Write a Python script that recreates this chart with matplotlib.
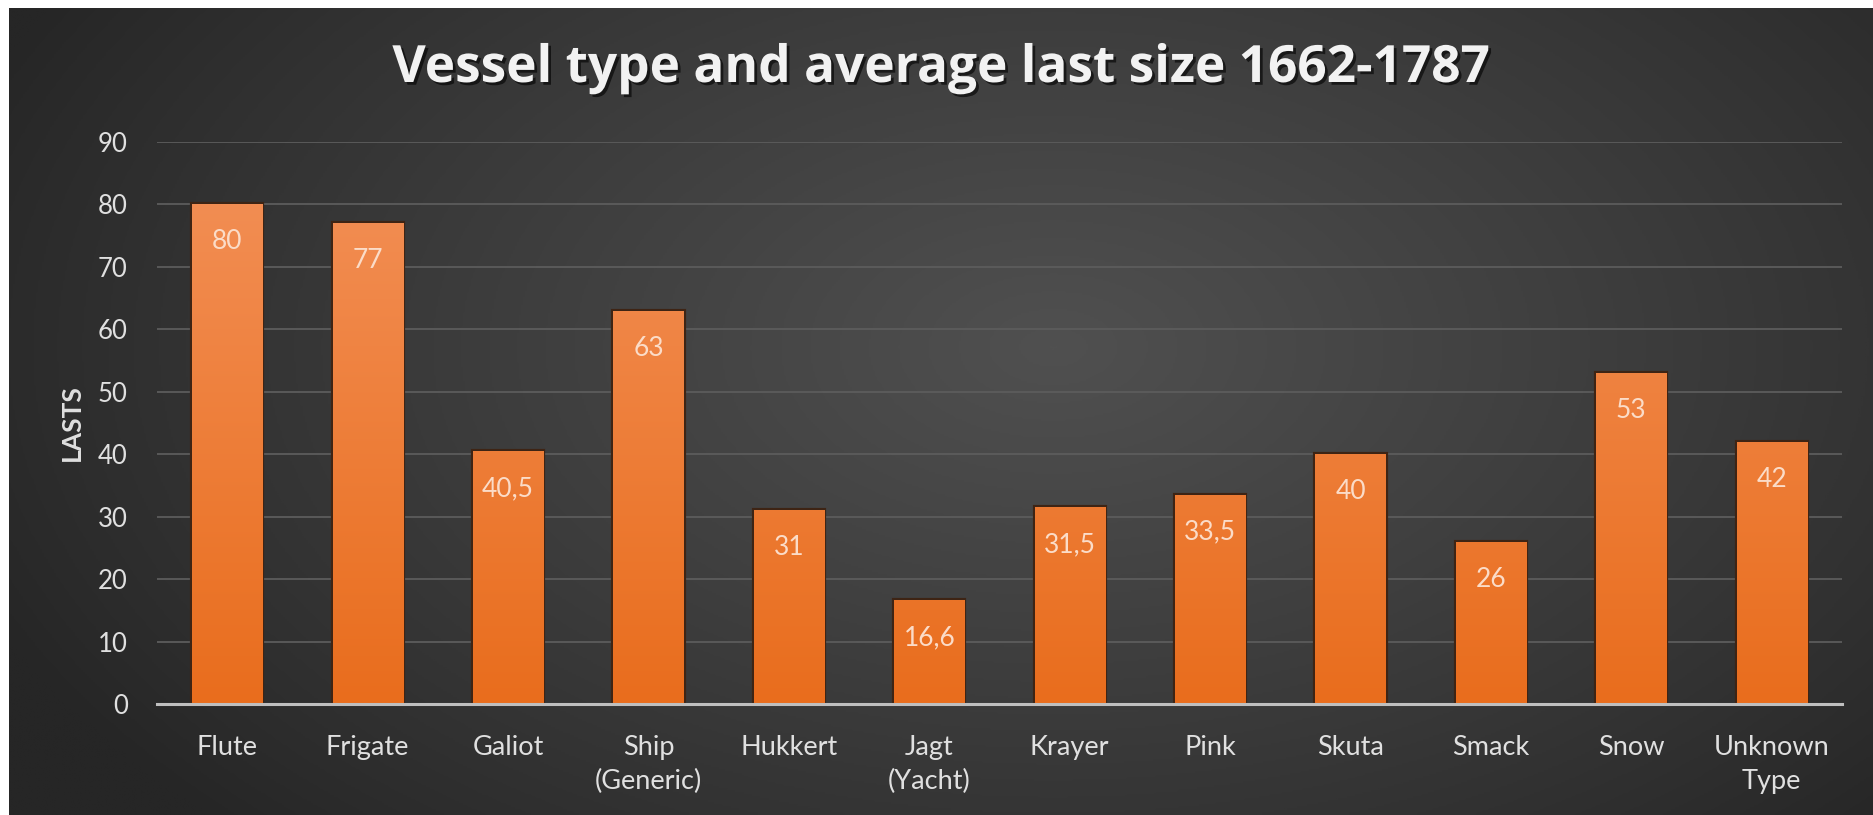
import numpy as np
import matplotlib
matplotlib.use("Agg")
import matplotlib.pyplot as plt
import matplotlib.patheffects as pe
from matplotlib.colors import LinearSegmentedColormap

# --- data -------------------------------------------------------------
categories = ["Flute", "Frigate", "Galiot", "Ship\n(Generic)", "Hukkert",
              "Jagt\n(Yacht)", "Krayer", "Pink", "Skuta", "Smack", "Snow",
              "Unknown\nType"]
avg_lasts = [80, 77, 40.5, 63, 31, 16.6, 31.5, 33.5, 40, 26, 53, 42]
value_labels = ["80", "77", "40,5", "63", "31", "16,6", "31,5", "33,5",
                "40", "26", "53", "42"]
y_ticks = [0, 10, 20, 30, 40, 50, 60, 70, 80, 90]

plt.rcParams["font.family"] = ["Lato", "DejaVu Sans"]

W, H = 1874, 815
fig = plt.figure(figsize=(W / 100, H / 100), dpi=100, facecolor="white")

# --- dark radial background panel ------------------------------------
bg = fig.add_axes([9 / W, 0, 1 - 9 / W, 1 - 8 / H], zorder=0)
bg.set_axis_off()
yy, xx = np.mgrid[0:1:400j, 0:1:900j]
r = np.sqrt(((xx - 0.56) / 0.62) ** 2 + ((yy - 0.42) / 0.85) ** 2)
shade = np.clip(1 - r, 0, 1) ** 0.9
bg_cmap = LinearSegmentedColormap.from_list("bg", ["#262626", "#505050"])
bg.imshow(shade, cmap=bg_cmap, aspect="auto", extent=[0, 1, 0, 1],
          origin="upper", vmin=0, vmax=1, interpolation="bilinear")
bg.set_xlim(0, 1)
bg.set_ylim(0, 1)

# --- main chart ---------------------------------------------------------
ax = fig.add_axes([157 / W, 111 / H, 1685 / W, 562 / H], zorder=1)
ax.patch.set_alpha(0)
x = np.arange(len(categories))

for s in ["top", "right", "left"]:
    ax.spines[s].set_visible(False)
ax.spines["bottom"].set_color("#BFBFBF")
ax.spines["bottom"].set_linewidth(2.2)
ax.spines["bottom"].set_zorder(5)

ax.set_yticks(y_ticks)
ax.yaxis.grid(True, color="#5C5C5C", linewidth=1.3)
ax.set_axisbelow(True)
ax.tick_params(axis="y", length=0, pad=21, labelsize=18.5, labelcolor="#E0E0E0")
ax.set_xticks(x)
ax.set_xticklabels(categories, linespacing=1.45)
ax.tick_params(axis="x", length=0, pad=22, labelsize=19.5, labelcolor="#E0E0E0")

ax.set_ylabel("LASTS", fontsize=19, fontweight="bold", color="#E0E0E0",
              labelpad=10)

bar_width = 0.5
bars = ax.bar(x, avg_lasts, width=bar_width, color="#EE7A30",
              edgecolor="#3E2414", linewidth=3.0, zorder=2)

# vertical orange gradient inside each bar
bar_cmap = LinearSegmentedColormap.from_list("bar", ["#E96D1D", "#F28D52"])
grad = np.linspace(0, 1, 256).reshape(-1, 1)
for rect, val in zip(bars, avg_lasts):
    x0 = rect.get_x()
    g = grad * val / 80.0
    im = ax.imshow(g, cmap=bar_cmap, vmin=0, vmax=1, aspect="auto",
                   origin="lower", extent=[x0, x0 + bar_width, 0, val],
                   zorder=2.5, interpolation="bilinear")
    im.set_clip_path(rect)
ax.set_xlim(-0.5, len(categories) - 0.5)
ax.set_ylim(0, 90)

for xi, val, lab in zip(x, avg_lasts, value_labels):
    ax.annotate(lab, (xi, val), xytext=(0, -27), textcoords="offset points",
                ha="center", va="center", fontsize=19, color="#FBDCC8",
                zorder=4)

# --- title --------------------------------------------------------------
fig.text(0.502, 1 - 69 / H, "Vessel type and average last size 1662-1787",
         ha="center", va="center", fontsize=37, fontweight="bold",
         family=["Open Sans", "DejaVu Sans"], color="#F2F2F2",
         path_effects=[pe.withSimplePatchShadow(offset=(2, -2),
                                                shadow_rgbFace="black",
                                                alpha=0.6)])

fig.savefig("out.png", dpi=100, facecolor="white")
